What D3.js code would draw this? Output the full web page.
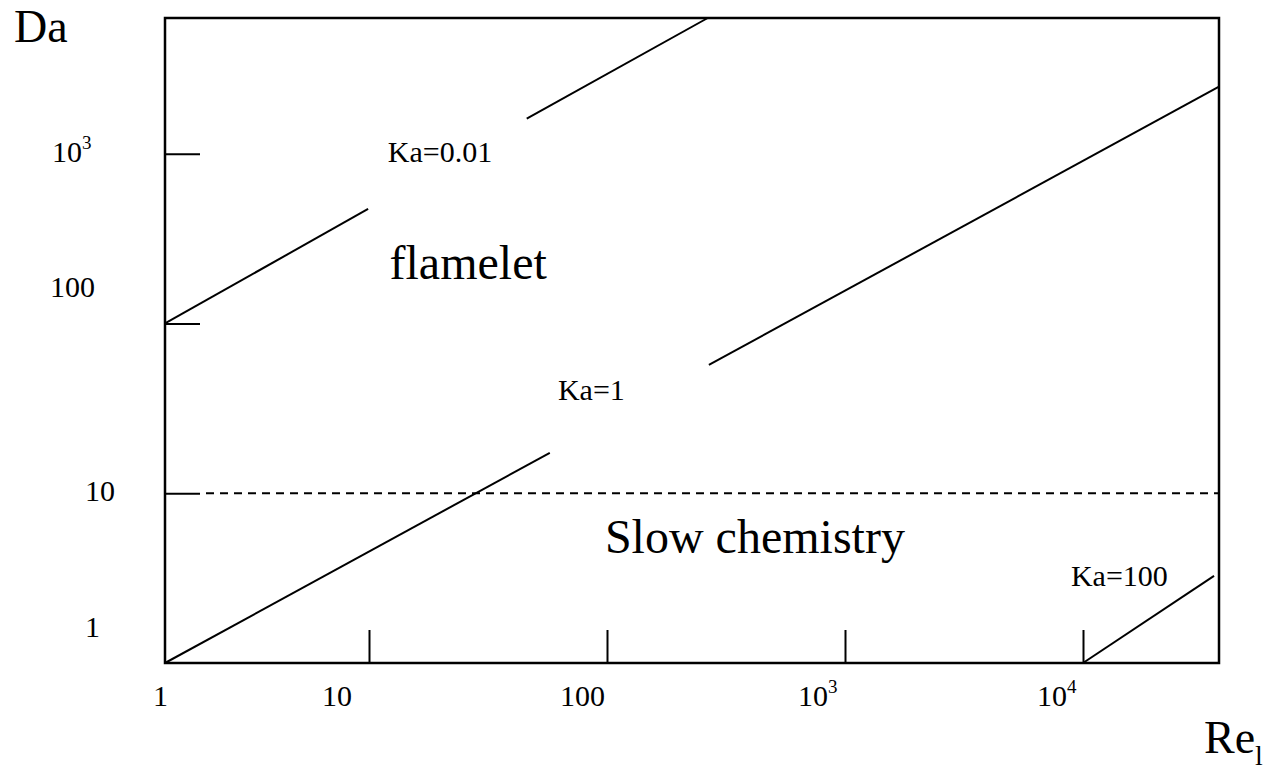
<!DOCTYPE html>
<html lang="en">
	<head>
		<meta charset="utf-8">
		<title>Da - Re regime diagram</title>
		<script src="https://cdn.jsdelivr.net/npm/d3@7/dist/d3.min.js" charset="utf-8"></script>
		<style type="text/css">
			body { margin: 0; background: #fff; }
			text { font-family: "Liberation Serif", "Times New Roman", serif; fill: #000; }
		</style>
	</head>
	<body>
		<script type="text/javascript">

		// axis ticks and labels
		var reTickValues = [1, 10, 100, 1000, 10000];
		var reTickLabels = ["1", "10", "100", "10^3", "10^4"];
		var daTickValues = [1, 10, 100, 1000];
		var daTickLabels = ["1", "10", "100", "10^3"];

		// Ka = const lines, [Re, Da] pairs, split where the label sits
		var ka001 = [[[1, 100], [9.9, 473]], [[46, 1607], [265, 6300]]];
		var ka1 = [[[1, 1], [57.5, 17.3]], [[268, 57], [37240, 2480]]];
		var ka100 = [[[10000, 1], [35500, 3.26]]];

		// slow chemistry boundary
		var daSlow = 10;

		// annotations [Re, Da, text]
		var kaLabels = [[12.0, 896, "Ka=0.01"], [62.2, 35.5, "Ka=1"], [8900, 2.84, "Ka=100"]];
		var regionLabels = [[12.2, 183, "flamelet"], [98, 4.45, "Slow chemistry"]];

		var reMax = 37240, daMax = 6300;

		var w = 1270, h = 770;
		var pLeft = 165, pRight = 1219, pTop = 18, pBottom = 663;

		var svg = d3.select("body")
					.append("svg")
					.attr("width", w)
					.attr("height", h);

		// the drawing is schematic: first decade on x is narrower than the rest
		var x = d3.scaleLog()
				  .domain([1, 10, 10000, reMax])
				  .range([pLeft, 369, 1083, pRight]);
		var y = d3.scaleLog()
				  .domain([1, daMax])
				  .range([pBottom, pTop]);

		// ticks pointing inward
		var xAxis = d3.axisBottom(x)
					  .tickValues([10, 100, 1000, 10000])
					  .tickSizeInner(-33)
					  .tickSizeOuter(0)
					  .tickFormat("");
		var yAxis = d3.axisLeft(y)
					  .tickValues([10, 100, 1000])
					  .tickSizeInner(-35)
					  .tickSizeOuter(0)
					  .tickFormat("");

		var gx = svg.append("g")
					.attr("transform", "translate(0," + pBottom + ")")
					.call(xAxis);
		var gy = svg.append("g")
					.attr("transform", "translate(" + pLeft + ",0)")
					.call(yAxis);
		[gx, gy].forEach(function(g) {
			g.select(".domain").remove();
			g.selectAll(".tick line").attr("stroke", "#000").attr("stroke-width", 2);
		});

		// dashed Da = 10 line, after the tick
		svg.append("line")
		   .attr("x1", pLeft + 41)
		   .attr("x2", pRight)
		   .attr("y1", y(daSlow))
		   .attr("y2", y(daSlow))
		   .attr("stroke", "#000")
		   .attr("stroke-width", 2)
		   .attr("stroke-dasharray", "8,6");

		var line = d3.line()
					 .x(function(d) { return x(d[0]); })
					 .y(function(d) { return y(d[1]); });

		svg.selectAll("path.ka")
		   .data(ka001.concat(ka1, ka100))
		   .enter()
		   .append("path")
		   .attr("class", "ka")
		   .attr("d", line)
		   .attr("fill", "none")
		   .attr("stroke", "#000")
		   .attr("stroke-width", 2);

		// frame
		svg.append("rect")
		   .attr("x", pLeft)
		   .attr("y", pTop)
		   .attr("width", pRight - pLeft)
		   .attr("height", pBottom - pTop)
		   .attr("fill", "none")
		   .attr("stroke", "#000")
		   .attr("stroke-width", 2.5);

		// label with optional ^superscript
		function powerText(sel, s, size) {
			var parts = s.split("^");
			sel.append("tspan").text(parts[0]);
			if (parts.length > 1) {
				sel.append("tspan")
				   .attr("dy", -Math.round(size * 0.42))
				   .attr("font-size", Math.round(size * 0.64))
				   .text(parts[1]);
			}
		}

		var xLabelDx = [-12, -47, -47, -47, -46];
		reTickValues.forEach(function(v, i) {
			var t = svg.append("text")
					   .attr("x", x(v) + xLabelDx[i])
					   .attr("y", 706)
					   .attr("font-size", 30);
			powerText(t, reTickLabels[i], 30);
		});

		var yLabelX = [85, 85, 50, 52];
		var yLabelDy = [-26, 8, -26, 8];
		daTickValues.forEach(function(v, i) {
			var t = svg.append("text")
					   .attr("x", yLabelX[i])
					   .attr("y", y(v) + yLabelDy[i])
					   .attr("font-size", 30);
			powerText(t, daTickLabels[i], 30);
		});

		svg.selectAll("text.ka")
		   .data(kaLabels)
		   .enter()
		   .append("text")
		   .attr("class", "ka")
		   .attr("x", function(d) { return x(d[0]); })
		   .attr("y", function(d) { return y(d[1]); })
		   .attr("font-size", 30)
		   .text(function(d) { return d[2]; });

		svg.selectAll("text.region")
		   .data(regionLabels)
		   .enter()
		   .append("text")
		   .attr("class", "region")
		   .attr("x", function(d) { return x(d[0]); })
		   .attr("y", function(d) { return y(d[1]); })
		   .attr("font-size", 48)
		   .text(function(d) { return d[2]; });

		// axis titles
		svg.append("text")
		   .attr("x", 14)
		   .attr("y", 42)
		   .attr("font-size", 46)
		   .text("Da");

		var re = svg.append("text")
					.attr("x", 1204)
					.attr("y", 753)
					.attr("font-size", 46);
		re.append("tspan").text("Re");
		re.append("tspan")
		  .attr("dy", 12)
		  .attr("font-size", 28)
		  .text("l");

		</script>
	</body>
</html>
